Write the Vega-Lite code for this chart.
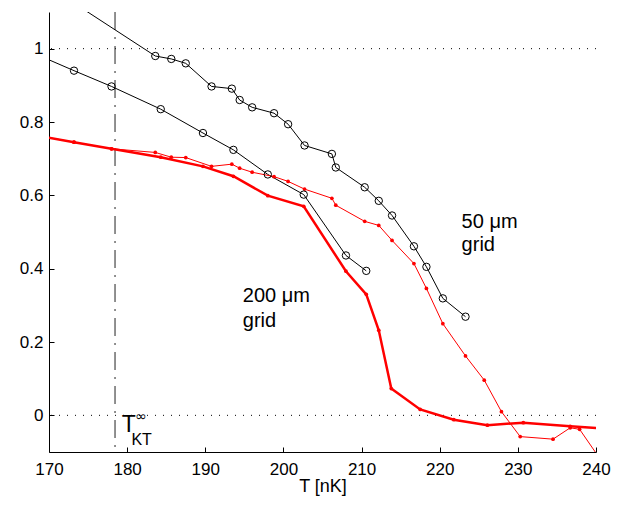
{
  "$schema": "https://vega.github.io/schema/vega-lite/v6.json",
  "width": 547,
  "height": 440,
  "autosize": {"type": "none"},
  "padding": {"left": 49, "top": 12, "right": 27, "bottom": 54},
  "background": "white",
  "config": {
    "view": {"stroke": null},
    "font": "Liberation Sans",
    "axis": {
      "domainColor": "black",
      "domainWidth": 1,
      "tickColor": "black",
      "tickSize": -5,
      "tickWidth": 1,
      "labelFontSize": 17,
      "labelColor": "black",
      "labelFont": "Liberation Sans",
      "titleFontSize": 18,
      "titleFontWeight": "normal",
      "titleColor": "black",
      "titleFont": "Liberation Sans",
      "grid": false
    }
  },
  "datasets": {
    "b50": [
      {"T": 172, "v": 1.141},
      {"T": 183.6, "v": 0.98},
      {"T": 185.65, "v": 0.972},
      {"T": 187.5, "v": 0.96},
      {"T": 190.8, "v": 0.897},
      {"T": 193.4, "v": 0.891},
      {"T": 194.4, "v": 0.86},
      {"T": 196.0, "v": 0.84},
      {"T": 198.8, "v": 0.824},
      {"T": 200.6, "v": 0.794},
      {"T": 202.7, "v": 0.736},
      {"T": 206.2, "v": 0.713},
      {"T": 206.7, "v": 0.676},
      {"T": 210.4, "v": 0.622},
      {"T": 212.2, "v": 0.585},
      {"T": 213.9, "v": 0.545},
      {"T": 216.7, "v": 0.461},
      {"T": 218.3, "v": 0.405},
      {"T": 220.4, "v": 0.319},
      {"T": 223.3, "v": 0.269}
    ],
    "b200": [
      {"T": 168, "v": 0.988},
      {"T": 173.2, "v": 0.94},
      {"T": 178.0, "v": 0.897},
      {"T": 184.3, "v": 0.835},
      {"T": 189.7, "v": 0.77},
      {"T": 193.6, "v": 0.724},
      {"T": 198.0, "v": 0.657},
      {"T": 202.6, "v": 0.602},
      {"T": 208.0, "v": 0.436},
      {"T": 210.6, "v": 0.394}
    ],
    "r50": [
      {"T": 168, "v": 0.765},
      {"T": 173.2, "v": 0.745},
      {"T": 178.0, "v": 0.727},
      {"T": 183.6, "v": 0.717},
      {"T": 185.65, "v": 0.704},
      {"T": 187.5, "v": 0.703},
      {"T": 190.8, "v": 0.679},
      {"T": 193.4, "v": 0.685},
      {"T": 194.4, "v": 0.674},
      {"T": 196.0, "v": 0.663},
      {"T": 198.8, "v": 0.651},
      {"T": 200.6, "v": 0.638},
      {"T": 202.7, "v": 0.617},
      {"T": 206.2, "v": 0.592},
      {"T": 206.7, "v": 0.573},
      {"T": 210.4, "v": 0.529},
      {"T": 212.2, "v": 0.518},
      {"T": 213.9, "v": 0.477},
      {"T": 216.7, "v": 0.414},
      {"T": 218.3, "v": 0.346},
      {"T": 220.4, "v": 0.25},
      {"T": 223.3, "v": 0.162},
      {"T": 225.7, "v": 0.096},
      {"T": 227.9, "v": 0.01},
      {"T": 230.3, "v": -0.058},
      {"T": 234.5, "v": -0.065},
      {"T": 236.7, "v": -0.034},
      {"T": 237.9, "v": -0.038},
      {"T": 240.1, "v": -0.106}
    ],
    "r200": [
      {"T": 168, "v": 0.765},
      {"T": 173.2, "v": 0.745},
      {"T": 178.0, "v": 0.727},
      {"T": 184.3, "v": 0.704},
      {"T": 189.7, "v": 0.679},
      {"T": 193.6, "v": 0.652},
      {"T": 198.0, "v": 0.599},
      {"T": 202.6, "v": 0.57},
      {"T": 208.0, "v": 0.393},
      {"T": 210.6, "v": 0.33},
      {"T": 212.2, "v": 0.232},
      {"T": 213.8, "v": 0.073},
      {"T": 217.5, "v": 0.016},
      {"T": 221.8, "v": -0.012},
      {"T": 226.1, "v": -0.027},
      {"T": 230.7, "v": -0.02},
      {"T": 236.7, "v": -0.03},
      {"T": 240.3, "v": -0.035}
    ],
    "hrefs": [{"v": 0}, {"v": 1}],
    "vref": [{"T": 178.45}],
    "labels": [
      {"T": 222.8, "v": 0.512, "label": "50 μm", "part": "ann"},
      {"T": 222.8, "v": 0.447, "label": "grid", "part": "ann"},
      {"T": 194.8, "v": 0.31, "label": "200 μm", "part": "ann"},
      {"T": 194.8, "v": 0.242, "label": "grid", "part": "ann"},
      {"T": 179.3, "v": -0.046, "label": "T", "part": "main"},
      {"T": 180.55, "v": -0.08, "label": "KT", "part": "sub"},
      {"T": 181.05, "v": -0.004, "label": "∞", "part": "sup"}
    ]
  },
  "layer": [
    {
      "data": {"name": "hrefs"},
      "mark": {"type": "rule", "color": "black", "strokeWidth": 1, "strokeDash": [1, 7]},
      "encoding": {
        "y": {"field": "v", "type": "quantitative", "scale": {"domain": [-0.1, 1.1], "nice": false, "zero": false}, "axis": {"values": [0, 0.2, 0.4, 0.6, 0.8, 1], "format": "~g", "labelPadding": 11, "title": null}}
      }
    },
    {
      "data": {"name": "vref"},
      "mark": {"type": "rule", "color": "#222222", "strokeWidth": 1, "strokeDash": [18, 7, 2, 7]},
      "encoding": {
        "x": {"field": "T", "type": "quantitative", "scale": {"domain": [170, 240], "nice": false, "zero": false}, "axis": {"values": [170, 180, 190, 200, 210, 220, 230, 240], "format": "d", "labelPadding": 14, "title": "T [nK]", "titlePadding": 0, "labelFlush": false}}
      }
    },
    {
      "data": {"name": "b50"},
      "mark": {"type": "line", "color": "black", "strokeWidth": 1, "clip": true},
      "encoding": {
        "x": {"field": "T", "type": "quantitative", "scale": {"domain": [170, 240], "nice": false, "zero": false}, "axis": {"values": [170, 180, 190, 200, 210, 220, 230, 240], "format": "d", "labelPadding": 14, "title": "T [nK]", "titlePadding": 0, "labelFlush": false}},
        "y": {"field": "v", "type": "quantitative", "scale": {"domain": [-0.1, 1.1], "nice": false, "zero": false}, "axis": {"values": [0, 0.2, 0.4, 0.6, 0.8, 1], "format": "~g", "labelPadding": 11, "title": null}}
      }
    },
    {
      "data": {"name": "b200"},
      "mark": {"type": "line", "color": "black", "strokeWidth": 1, "clip": true},
      "encoding": {
        "x": {"field": "T", "type": "quantitative", "scale": {"domain": [170, 240], "nice": false, "zero": false}, "axis": {"values": [170, 180, 190, 200, 210, 220, 230, 240], "format": "d", "labelPadding": 14, "title": "T [nK]", "titlePadding": 0, "labelFlush": false}},
        "y": {"field": "v", "type": "quantitative", "scale": {"domain": [-0.1, 1.1], "nice": false, "zero": false}, "axis": {"values": [0, 0.2, 0.4, 0.6, 0.8, 1], "format": "~g", "labelPadding": 11, "title": null}}
      }
    },
    {
      "data": {"name": "r50"},
      "mark": {"type": "line", "color": "#ff0000", "strokeWidth": 1, "clip": true},
      "encoding": {
        "x": {"field": "T", "type": "quantitative", "scale": {"domain": [170, 240], "nice": false, "zero": false}, "axis": {"values": [170, 180, 190, 200, 210, 220, 230, 240], "format": "d", "labelPadding": 14, "title": "T [nK]", "titlePadding": 0, "labelFlush": false}},
        "y": {"field": "v", "type": "quantitative", "scale": {"domain": [-0.1, 1.1], "nice": false, "zero": false}, "axis": {"values": [0, 0.2, 0.4, 0.6, 0.8, 1], "format": "~g", "labelPadding": 11, "title": null}}
      }
    },
    {
      "data": {"name": "r50"},
      "mark": {"type": "point", "shape": "circle", "filled": true, "color": "#ff0000", "size": 14, "opacity": 1, "clip": true},
      "encoding": {
        "x": {"field": "T", "type": "quantitative", "scale": {"domain": [170, 240], "nice": false, "zero": false}, "axis": {"values": [170, 180, 190, 200, 210, 220, 230, 240], "format": "d", "labelPadding": 14, "title": "T [nK]", "titlePadding": 0, "labelFlush": false}},
        "y": {"field": "v", "type": "quantitative", "scale": {"domain": [-0.1, 1.1], "nice": false, "zero": false}, "axis": {"values": [0, 0.2, 0.4, 0.6, 0.8, 1], "format": "~g", "labelPadding": 11, "title": null}}
      }
    },
    {
      "data": {"name": "r200"},
      "mark": {"type": "line", "color": "#ff0000", "strokeWidth": 2.5, "clip": true},
      "encoding": {
        "x": {"field": "T", "type": "quantitative", "scale": {"domain": [170, 240], "nice": false, "zero": false}, "axis": {"values": [170, 180, 190, 200, 210, 220, 230, 240], "format": "d", "labelPadding": 14, "title": "T [nK]", "titlePadding": 0, "labelFlush": false}},
        "y": {"field": "v", "type": "quantitative", "scale": {"domain": [-0.1, 1.1], "nice": false, "zero": false}, "axis": {"values": [0, 0.2, 0.4, 0.6, 0.8, 1], "format": "~g", "labelPadding": 11, "title": null}}
      }
    },
    {
      "data": {"name": "r200"},
      "mark": {"type": "point", "shape": "circle", "filled": true, "color": "#ff0000", "size": 14, "opacity": 1, "clip": true},
      "encoding": {
        "x": {"field": "T", "type": "quantitative", "scale": {"domain": [170, 240], "nice": false, "zero": false}, "axis": {"values": [170, 180, 190, 200, 210, 220, 230, 240], "format": "d", "labelPadding": 14, "title": "T [nK]", "titlePadding": 0, "labelFlush": false}},
        "y": {"field": "v", "type": "quantitative", "scale": {"domain": [-0.1, 1.1], "nice": false, "zero": false}, "axis": {"values": [0, 0.2, 0.4, 0.6, 0.8, 1], "format": "~g", "labelPadding": 11, "title": null}}
      }
    },
    {
      "data": {"name": "b50"},
      "mark": {"type": "point", "shape": "circle", "filled": false, "color": "black", "strokeWidth": 1, "size": 55, "opacity": 1, "clip": true},
      "encoding": {
        "x": {"field": "T", "type": "quantitative", "scale": {"domain": [170, 240], "nice": false, "zero": false}, "axis": {"values": [170, 180, 190, 200, 210, 220, 230, 240], "format": "d", "labelPadding": 14, "title": "T [nK]", "titlePadding": 0, "labelFlush": false}},
        "y": {"field": "v", "type": "quantitative", "scale": {"domain": [-0.1, 1.1], "nice": false, "zero": false}, "axis": {"values": [0, 0.2, 0.4, 0.6, 0.8, 1], "format": "~g", "labelPadding": 11, "title": null}}
      }
    },
    {
      "data": {"name": "b200"},
      "mark": {"type": "point", "shape": "circle", "filled": false, "color": "black", "strokeWidth": 1, "size": 55, "opacity": 1, "clip": true},
      "encoding": {
        "x": {"field": "T", "type": "quantitative", "scale": {"domain": [170, 240], "nice": false, "zero": false}, "axis": {"values": [170, 180, 190, 200, 210, 220, 230, 240], "format": "d", "labelPadding": 14, "title": "T [nK]", "titlePadding": 0, "labelFlush": false}},
        "y": {"field": "v", "type": "quantitative", "scale": {"domain": [-0.1, 1.1], "nice": false, "zero": false}, "axis": {"values": [0, 0.2, 0.4, 0.6, 0.8, 1], "format": "~g", "labelPadding": 11, "title": null}}
      }
    },
    {
      "data": {"name": "labels"},
      "transform": [{"filter": "datum.part === 'ann'"}],
      "mark": {"type": "text", "align": "left", "baseline": "alphabetic", "fontSize": 20, "color": "black", "font": "Liberation Sans"},
      "encoding": {
        "x": {"field": "T", "type": "quantitative", "scale": {"domain": [170, 240], "nice": false, "zero": false}, "axis": {"values": [170, 180, 190, 200, 210, 220, 230, 240], "format": "d", "labelPadding": 14, "title": "T [nK]", "titlePadding": 0, "labelFlush": false}},
        "y": {"field": "v", "type": "quantitative", "scale": {"domain": [-0.1, 1.1], "nice": false, "zero": false}, "axis": {"values": [0, 0.2, 0.4, 0.6, 0.8, 1], "format": "~g", "labelPadding": 11, "title": null}},
        "text": {"field": "label"}
      }
    },
    {
      "data": {"name": "labels"},
      "transform": [{"filter": "datum.part === 'main'"}],
      "mark": {"type": "text", "align": "left", "baseline": "alphabetic", "fontSize": 23, "color": "black", "font": "Liberation Sans"},
      "encoding": {
        "x": {"field": "T", "type": "quantitative", "scale": {"domain": [170, 240], "nice": false, "zero": false}, "axis": {"values": [170, 180, 190, 200, 210, 220, 230, 240], "format": "d", "labelPadding": 14, "title": "T [nK]", "titlePadding": 0, "labelFlush": false}},
        "y": {"field": "v", "type": "quantitative", "scale": {"domain": [-0.1, 1.1], "nice": false, "zero": false}, "axis": {"values": [0, 0.2, 0.4, 0.6, 0.8, 1], "format": "~g", "labelPadding": 11, "title": null}},
        "text": {"field": "label"}
      }
    },
    {
      "data": {"name": "labels"},
      "transform": [{"filter": "datum.part === 'sub'"}],
      "mark": {"type": "text", "align": "left", "baseline": "alphabetic", "fontSize": 16, "color": "black", "font": "Liberation Sans"},
      "encoding": {
        "x": {"field": "T", "type": "quantitative", "scale": {"domain": [170, 240], "nice": false, "zero": false}, "axis": {"values": [170, 180, 190, 200, 210, 220, 230, 240], "format": "d", "labelPadding": 14, "title": "T [nK]", "titlePadding": 0, "labelFlush": false}},
        "y": {"field": "v", "type": "quantitative", "scale": {"domain": [-0.1, 1.1], "nice": false, "zero": false}, "axis": {"values": [0, 0.2, 0.4, 0.6, 0.8, 1], "format": "~g", "labelPadding": 11, "title": null}},
        "text": {"field": "label"}
      }
    },
    {
      "data": {"name": "labels"},
      "transform": [{"filter": "datum.part === 'sup'"}],
      "mark": {"type": "text", "align": "left", "baseline": "middle", "fontSize": 14, "color": "black", "font": "DejaVu Sans"},
      "encoding": {
        "x": {"field": "T", "type": "quantitative", "scale": {"domain": [170, 240], "nice": false, "zero": false}, "axis": {"values": [170, 180, 190, 200, 210, 220, 230, 240], "format": "d", "labelPadding": 14, "title": "T [nK]", "titlePadding": 0, "labelFlush": false}},
        "y": {"field": "v", "type": "quantitative", "scale": {"domain": [-0.1, 1.1], "nice": false, "zero": false}, "axis": {"values": [0, 0.2, 0.4, 0.6, 0.8, 1], "format": "~g", "labelPadding": 11, "title": null}},
        "text": {"field": "label"}
      }
    }
  ]
}
